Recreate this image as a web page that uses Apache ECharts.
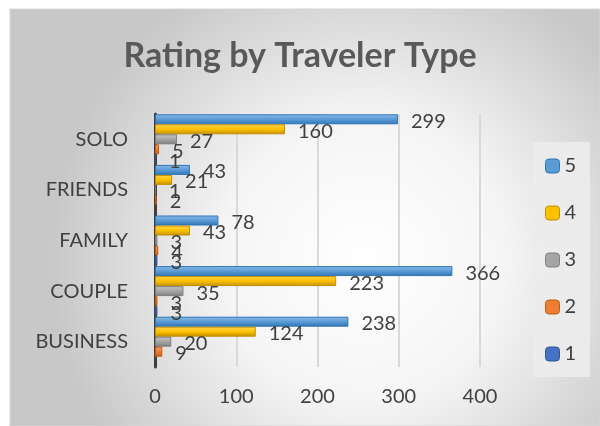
<!DOCTYPE html>
<html>
<head>
<meta charset="utf-8">
<script src="https://cdn.jsdelivr.net/npm/echarts@6/dist/echarts.min.js"></script>
<style>
  html, body { margin: 0; padding: 0; background: #ffffff; }
  #chart { width: 600px; height: 426px; }
</style>
</head>
<body>
<div id="chart"></div>
<script>
// Traveler types, bottom to top on the category axis
const travelerTypes = ['BUSINESS', 'COUPLE', 'FAMILY', 'FRIENDS', 'SOLO'];

// Review counts per star rating, aligned with travelerTypes
const rating5 = [238, 366, 78, 43, 299];
const rating4 = [124, 223, 43, 21, 160];
const rating3 = [20, 35, 3, 1, 27];
const rating2 = [9, 3, 4, 2, 5];
const rating1 = [null, 3, 3, null, 1];

const xTicks = { min: 0, max: 400, interval: 100 };

const FONT = 'Lato, "Liberation Sans", sans-serif';
const TEXT = '#404040';

function barStyle(light, mid, dark) {
  return {
    color: new echarts.graphic.LinearGradient(0, 0, 0, 1, [
      { offset: 0, color: light },
      { offset: 0.5, color: mid },
      { offset: 1, color: dark }
    ]),
    borderColor: dark,
    borderWidth: 1
  };
}

// Within each band the first series sits on top, so 5 stars comes first
const seriesDefs = [
  { name: '5', data: rating5, style: barStyle('#8dbbe8', '#5b9bd5', '#2e75b6'), legendColor: '#5b9bd5', legendBorder: '#2e75b6' },
  { name: '4', data: rating4, style: barStyle('#ffd54f', '#ffc000', '#bf9000'), legendColor: '#ffc000', legendBorder: '#bf9000' },
  { name: '3', data: rating3, style: barStyle('#c4c4c4', '#a5a5a5', '#7f7f7f'), legendColor: '#a5a5a5', legendBorder: '#7f7f7f' },
  { name: '2', data: rating2, style: barStyle('#f4a06a', '#ed7d31', '#c55a11'), legendColor: '#ed7d31', legendBorder: '#c55a11' },
  { name: '1', data: rating1, style: barStyle('#6d8fd6', '#4472c4', '#2f5597'), legendColor: '#4472c4', legendBorder: '#2f5597' }
];

const chart = echarts.init(document.getElementById('chart'), null, { renderer: 'canvas' });

chart.setOption({
  animation: false,
  backgroundColor: '#ffffff',
  graphic: [{
    type: 'rect',
    z: -10,
    silent: true,
    shape: { x: 10, y: 9, width: 590, height: 417 },
    style: {
      fill: new echarts.graphic.RadialGradient(0.6, 0.6, 0.75, [
        { offset: 0, color: '#ffffff' },
        { offset: 0.45, color: '#f5f5f5' },
        { offset: 1, color: '#c8c8c8' }
      ]),
      stroke: '#d6d6d6',
      lineWidth: 1
    }
  }],
  title: {
    text: 'Rating by Traveler Type',
    left: 'center',
    top: 34,
    textStyle: { fontFamily: FONT, fontSize: 34, fontWeight: 'bold', color: '#595959' }
  },
  legend: {
    orient: 'vertical',
    left: 533,
    top: 142,
    data: seriesDefs.map(d => ({
      name: d.name,
      itemStyle: { color: d.legendColor, borderColor: d.legendBorder, borderWidth: 1 }
    })),
    itemWidth: 14,
    itemHeight: 14,
    itemGap: 27,
    padding: [14, 14, 13, 12],
    backgroundColor: 'rgba(236,236,236,0.9)',
    textStyle: { fontFamily: FONT, fontSize: 20, lineHeight: 18, color: TEXT }
  },
  grid: { left: 155, right: 120, top: 114, bottom: 59, containLabel: false },
  xAxis: {
    type: 'value',
    min: xTicks.min,
    max: xTicks.max,
    interval: xTicks.interval,
    axisLine: { show: false },
    axisTick: { show: false },
    axisLabel: { fontFamily: FONT, fontSize: 20, color: TEXT, margin: 20 },
    splitLine: { lineStyle: { color: '#d9d9d9', width: 2 } }
  },
  yAxis: {
    type: 'category',
    data: travelerTypes,
    axisLine: { lineStyle: { color: '#3f3f3f', width: 3 } },
    axisTick: { show: false },
    axisLabel: { fontFamily: FONT, fontSize: 20, color: TEXT, margin: 27 }
  },
  series: seriesDefs.map(d => ({
    name: d.name,
    type: 'bar',
    data: d.data,
    barWidth: 10,
    barGap: '0%',
    itemStyle: d.style,
    label: {
      show: true,
      position: 'right',
      distance: 13,
      offset: [0, 2],
      fontFamily: FONT,
      fontSize: 20,
      color: TEXT
    }
  }))
});
</script>
</body>
</html>
